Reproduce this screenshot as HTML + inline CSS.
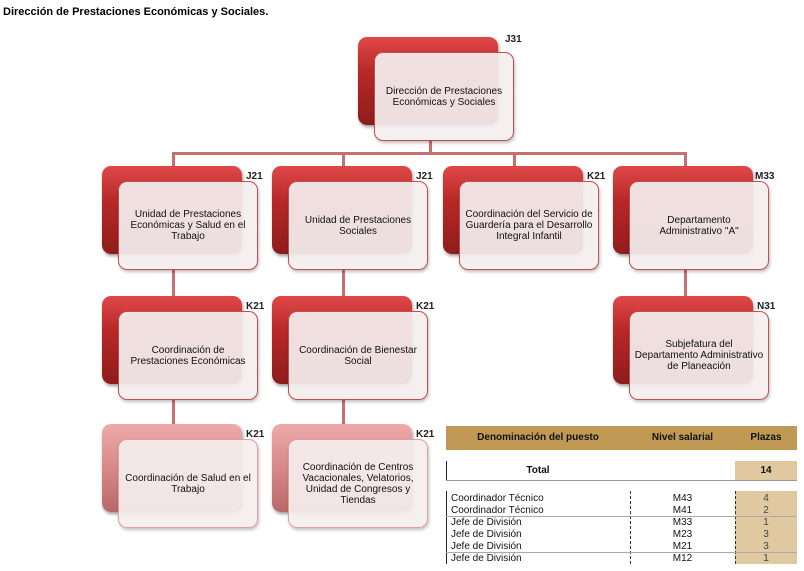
<!DOCTYPE html>
<html><head><meta charset="utf-8"><style>
body{margin:0;width:804px;height:571px;background:#fff;position:relative;font-family:"Liberation Sans",sans-serif;overflow:hidden}
.a{position:absolute}
.r{position:absolute;width:140px;height:88px;border-radius:9px;background:linear-gradient(#e04848,#b82828 40%,#8e1c1c);box-shadow:1px 2px 3px rgba(0,0,0,.4)}
.p{background:linear-gradient(#eeaaaa,#d88888 50%,#b86868)}
.w{position:absolute;width:138px;height:87px;border-radius:9px;background:rgba(244,238,238,.93);border:1px solid #c05050;display:flex;align-items:center;justify-content:center;text-align:center;font-size:10px;line-height:11px;color:#111;box-shadow:1px 2px 3px rgba(0,0,0,.25)}
.pw{border-color:#e0a0a0}
.l{position:absolute;font-size:10px;font-weight:bold;color:#222}
.ln{position:absolute;background:#c87070}
.t{position:absolute;font-size:10px;color:#111;line-height:12px}
</style></head><body>
<div class="a" style="left:3px;top:6px;font-size:11px;font-weight:bold">Dirección de Prestaciones Económicas y Sociales.</div>
<div class="ln" style="left:429px;top:140px;width:3px;height:14px"></div>
<div class="ln" style="left:172px;top:152px;width:515px;height:3px"></div>
<div class="ln" style="left:172px;top:152px;width:3px;height:14px"></div>
<div class="ln" style="left:342px;top:152px;width:3px;height:14px"></div>
<div class="ln" style="left:513px;top:152px;width:3px;height:14px"></div>
<div class="ln" style="left:684px;top:152px;width:3px;height:14px"></div>
<div class="ln" style="left:172px;top:269px;width:3px;height:27px"></div>
<div class="ln" style="left:342px;top:269px;width:3px;height:27px"></div>
<div class="ln" style="left:684px;top:269px;width:3px;height:27px"></div>
<div class="ln" style="left:172px;top:398px;width:3px;height:26px"></div>
<div class="ln" style="left:342px;top:398px;width:3px;height:26px"></div>

<div class="r" style="left:358px;top:37px"></div><div class="w" style="left:374px;top:52px">Dirección de Prestaciones<br>Económicas y Sociales</div><div class="l" style="left:505px;top:34px">J31</div>

<div class="r" style="left:102px;top:166px"></div><div class="w" style="left:118px;top:181px">Unidad de Prestaciones<br>Económicas y Salud en el<br>Trabajo</div><div class="l" style="left:246px;top:171px">J21</div>
<div class="r" style="left:272px;top:166px"></div><div class="w" style="left:288px;top:181px">Unidad de Prestaciones<br>Sociales</div><div class="l" style="left:416px;top:171px">J21</div>
<div class="r" style="left:443px;top:166px"></div><div class="w" style="left:459px;top:181px">Coordinación del Servicio de<br>Guardería para el Desarrollo<br>Integral Infantil</div><div class="l" style="left:587px;top:171px">K21</div>
<div class="r" style="left:613px;top:166px"></div><div class="w" style="left:629px;top:181px">Departamento<br>Administrativo "A"</div><div class="l" style="left:755px;top:171px">M33</div>

<div class="r" style="left:102px;top:296px"></div><div class="w" style="left:118px;top:311px">Coordinación de<br>Prestaciones Económicas</div><div class="l" style="left:246px;top:301px">K21</div>
<div class="r" style="left:272px;top:296px"></div><div class="w" style="left:288px;top:311px">Coordinación de Bienestar<br>Social</div><div class="l" style="left:416px;top:301px">K21</div>
<div class="r" style="left:613px;top:296px"></div><div class="w" style="left:629px;top:311px">Subjefatura del<br>Departamento Administrativo<br>de Planeación</div><div class="l" style="left:757px;top:301px">N31</div>

<div class="r p" style="left:102px;top:424px"></div><div class="w pw" style="left:118px;top:439px">Coordinación de Salud en el<br>Trabajo</div><div class="l" style="left:246px;top:429px">K21</div>
<div class="r p" style="left:272px;top:424px"></div><div class="w pw" style="left:288px;top:439px">Coordinación de Centros<br>Vacacionales, Velatorios,<br>Unidad de Congresos y<br>Tiendas</div><div class="l" style="left:416px;top:429px">K21</div>

<div class="a" style="left:446px;top:426px;width:351px;height:24px;background:#c09a55"></div>
<div class="t" style="left:446px;top:432px;width:184px;text-align:center;font-weight:bold">Denominación del puesto</div>
<div class="t" style="left:630px;top:432px;width:105px;text-align:center;font-weight:bold">Nivel salarial</div>
<div class="t" style="left:735px;top:432px;width:62px;text-align:center;font-weight:bold">Plazas</div>
<div class="a" style="left:446px;top:461px;width:1px;height:19px;background:#222"></div>
<div class="a" style="left:446px;top:480px;width:351px;height:1px;background:#999"></div>
<div class="a" style="left:735px;top:461px;width:62px;height:19px;background:#e0c9a0"></div>
<div class="t" style="left:446px;top:465px;width:184px;text-align:center;font-weight:bold">Total</div>
<div class="t" style="left:735px;top:465px;width:62px;text-align:center;font-weight:bold">14</div>
<div class="a" style="left:735px;top:491px;width:62px;height:73px;background:#e0c9a0"></div>
<div class="a" style="left:446px;top:491px;width:1px;height:73px;background:#222"></div>
<div class="a" style="left:630px;top:491px;height:73px;border-left:1px dashed #333"></div>
<div class="a" style="left:735px;top:491px;height:73px;border-left:1px dashed #333"></div>
<div class="a" style="left:446px;top:516px;width:351px;border-top:1px solid #aaa"></div>
<div class="a" style="left:446px;top:552px;width:351px;border-top:1px solid #aaa"></div>
<div class="t" style="left:451px;top:493px">Coordinador Técnico<br>Coordinador Técnico<br>Jefe de División<br>Jefe de División<br>Jefe de División<br>Jefe de División</div>
<div class="t" style="left:630px;top:493px;width:105px;text-align:center">M43<br>M41<br>M33<br>M23<br>M21<br>M12</div>
<div class="t" style="left:735px;top:493px;width:62px;text-align:center;color:#444">4<br>2<br>1<br>3<br>3<br>1</div>
</body></html>
